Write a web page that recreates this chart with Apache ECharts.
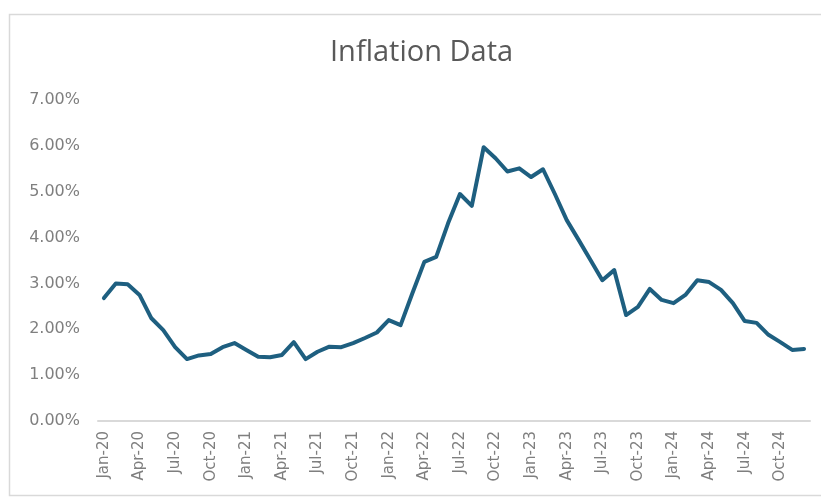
<!DOCTYPE html>
<html>
<head>
<meta charset="utf-8">
<script src="https://cdn.jsdelivr.net/npm/echarts@6/dist/echarts.min.js"></script>
<style>
html,body{margin:0;padding:0;background:#fff;}
#c{width:821px;height:501px;}
</style>
</head>
<body>
<div id="c"></div>
<script>
var months = ['Jan','Feb','Mar','Apr','May','Jun','Jul','Aug','Sep','Oct','Nov','Dec'];
var years = ['20','21','22','23','24'];
var categories = [];
years.forEach(function(y){ months.forEach(function(m){ categories.push(m + '-' + y); }); });

var inflation = [
  2.68, 3.00, 2.98, 2.75, 2.24, 1.98, 1.61, 1.35, 1.43, 1.46, 1.61, 1.70,
  1.55, 1.40, 1.39, 1.44, 1.72, 1.35, 1.51, 1.62, 1.61, 1.70, 1.81, 1.93,
  2.20, 2.09, 2.79, 3.47, 3.58, 4.31, 4.95, 4.69, 5.97, 5.73, 5.44, 5.51,
  5.32, 5.49, 4.95, 4.38, 3.95, 3.51, 3.07, 3.29, 2.31, 2.49, 2.88, 2.64,
  2.57, 2.75, 3.07, 3.03, 2.86, 2.57, 2.18, 2.14, 1.88, 1.72, 1.55, 1.57
];

var chart = echarts.init(document.getElementById('c'), null, {renderer:'canvas'});
chart.setOption({
  backgroundColor: '#fff',
  animation: false,
  graphic: [{
    type: 'rect',
    shape: {x: 9.5, y: 14.5, width: 830, height: 481},
    style: {fill: 'none', stroke: '#d9d9d9', lineWidth: 1.5},
    silent: true
  }],
  title: {
    text: 'Inflation Data',
    left: 325,
    top: 33,
    textStyle: {fontFamily: 'Open Sans', fontSize: 29, fontWeight: 'normal', color: '#595959'}
  },
  grid: {left: 98, right: 11, top: 100, bottom: 80, containLabel: false},
  xAxis: {
    type: 'category',
    data: categories,
    boundaryGap: true,
    axisLine: {lineStyle: {color: '#d9d9d9', width: 2}},
    axisTick: {show: false},
    axisLabel: {
      interval: 2,
      rotate: 90,
      color: '#7f7f7f',
      fontFamily: 'DejaVu Sans',
      fontSize: 15,
      margin: 10
    }
  },
  yAxis: {
    type: 'value',
    min: 0, max: 7, interval: 1,
    axisLine: {show: false},
    axisTick: {show: false},
    splitLine: {show: false},
    axisLabel: {
      color: '#7f7f7f',
      fontFamily: 'DejaVu Sans',
      fontSize: 16,
      margin: 18,
      formatter: function(v){ return v.toFixed(2) + '%'; }
    }
  },
  series: [{
    type: 'line',
    data: inflation,
    symbol: 'none',
    smooth: false,
    lineStyle: {color: '#1e5f80', width: 4, join: 'round', cap: 'round'}
  }]
});
</script>
</body>
</html>
